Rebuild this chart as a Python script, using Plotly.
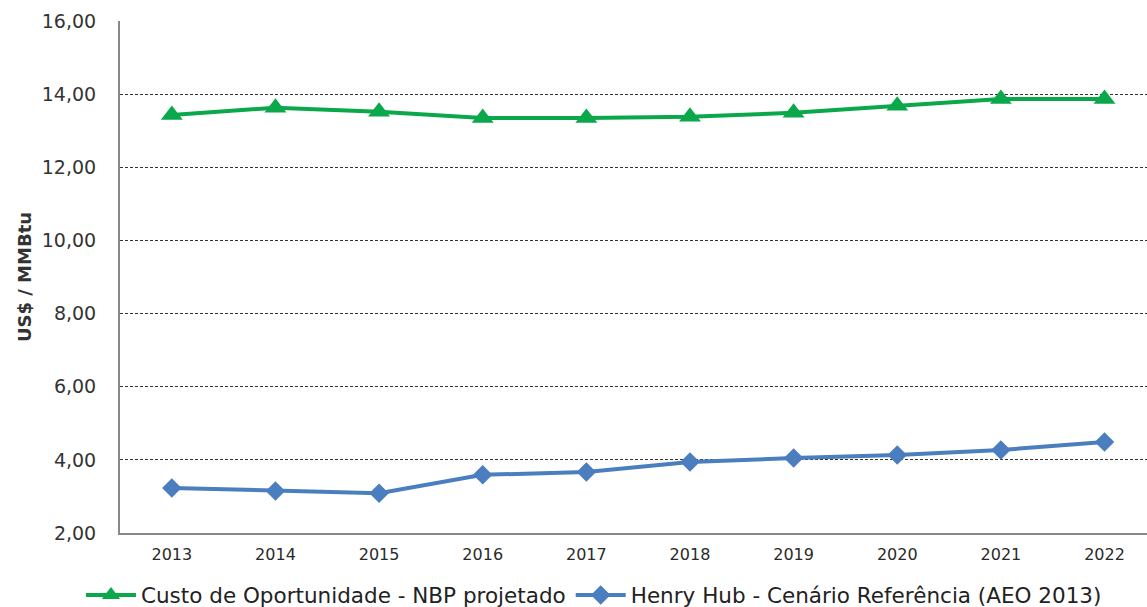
import plotly.graph_objects as go

years = ["2013", "2014", "2015", "2016", "2017", "2018", "2019", "2020", "2021", "2022"]
nbp = [13.43, 13.63, 13.52, 13.35, 13.35, 13.38, 13.49, 13.68, 13.87, 13.87]
henry_hub = [3.23, 3.15, 3.09, 3.59, 3.67, 3.94, 4.05, 4.13, 4.27, 4.49]
y_ticks = [2, 4, 6, 8, 10, 12, 14, 16]

GREEN = "#0AA84B"
BLUE = "#4A7EBF"
FONT = "DejaVu Sans"

fig = go.Figure()
fig.add_trace(go.Scatter(
    x=years, y=nbp, mode="lines+markers",
    name="Custo de Oportunidade - NBP projetado",
    line=dict(color=GREEN, width=4),
    marker=dict(symbol="triangle-up", size=19, color=GREEN),
))
fig.add_trace(go.Scatter(
    x=years, y=henry_hub, mode="lines+markers",
    name="Henry Hub - Cenário Referência (AEO 2013)",
    line=dict(color=BLUE, width=4),
    marker=dict(symbol="diamond", size=15, color=BLUE),
))

fig.update_layout(
    width=1147, height=625,
    margin=dict(l=120, r=0, t=21, b=92),
    paper_bgcolor="white", plot_bgcolor="white",
    separators=",.",
    font=dict(family=FONT, color="#333333"),
    showlegend=True,
    legend=dict(
        orientation="h", x=-0.038, xanchor="left", y=-0.121, yanchor="middle",
        font=dict(size=21.5, color="#222222", family=FONT),
        itemwidth=50, tracegroupgap=0,
    ),
    xaxis=dict(
        type="category", range=[-0.5, 9.41], automargin=False,
        showgrid=False, showline=True, linecolor="#888888", linewidth=2,
        ticks="", ticklabelstandoff=6,
        tickfont=dict(size=16, color="#2a2a2a", family=FONT),
    ),
    yaxis=dict(
        range=[2, 16], tickvals=y_ticks, tickformat=".2f", automargin=False,
        showgrid=True, gridcolor="#333333", gridwidth=1, griddash="3px,2px",
        showline=True, linecolor="#888888", linewidth=2,
        ticks="", ticklabelstandoff=18,
        tickfont=dict(size=19, color="#333333", family=FONT),
        title=dict(text="<b>US$ / MMBtu</b>", font=dict(size=18, color="#333333", family=FONT), standoff=5),
        zeroline=False,
    ),
)

fig.write_html(
    "out.html",
    config={"displayModeBar": False},
    post_script="document.body.style.margin='0';document.body.style.overflow='hidden';",
)
